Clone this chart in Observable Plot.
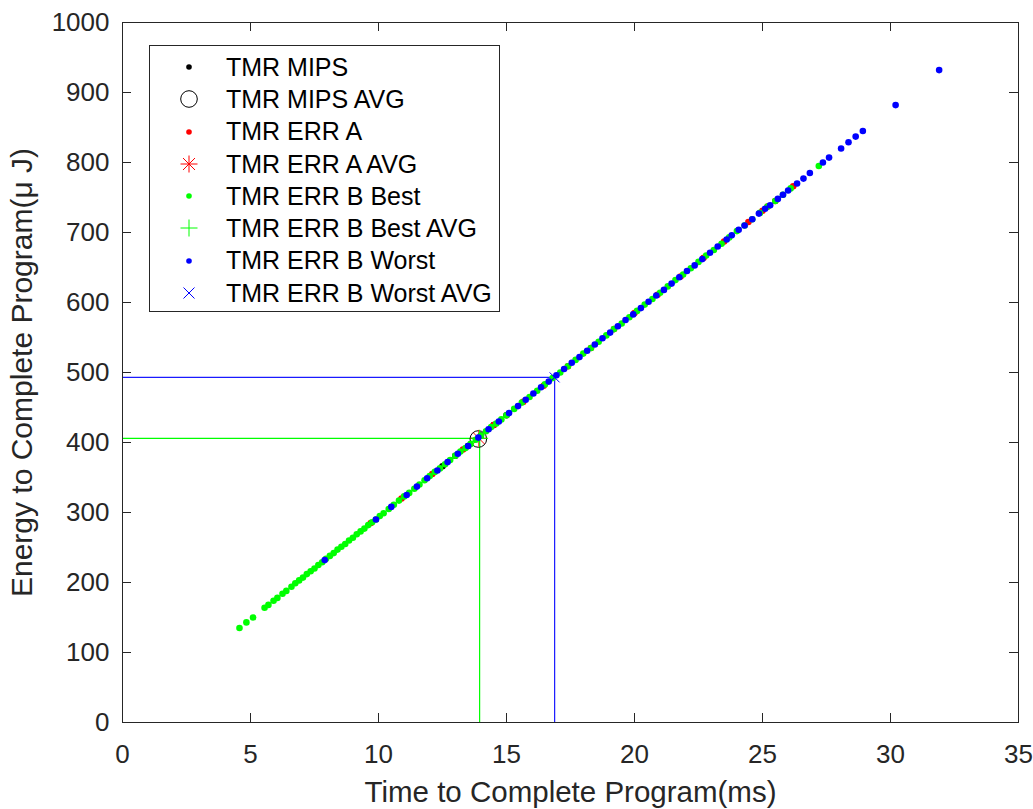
<!DOCTYPE html>
<html>
<head>
<meta charset="utf-8">
<script src="https://cdn.jsdelivr.net/npm/d3@7"></script>
<script src="https://cdn.jsdelivr.net/npm/@observablehq/plot@0.6"></script>
<style>
  html, body { margin: 0; padding: 0; background: #fff; }
  #wrap { position: relative; width: 1033px; height: 809px; }
  #legend {
    position: absolute; left: 149px; top: 45px; width: 351px; height: 267px;
    border: 1px solid #262626; background: #fff; box-sizing: border-box;
    font-family: "Liberation Sans", Arial, sans-serif; font-size: 25px; color: #000;
    padding-top: 5px;
  }
  .row { position: relative; height: 32.3px; display: flex; align-items: center; }
  .row svg { position: absolute; left: 27px; top: 4px; }
  .row span { position: absolute; left: 76px; white-space: nowrap; }
</style>
</head>
<body>
<div id="wrap"></div>
<script>
// ---- data ----
const xTicks = [0, 5, 10, 15, 20, 25, 30, 35];
const yTicks = [0, 100, 200, 300, 400, 500, 600, 700, 800, 900, 1000];

const seriesNames = ["TMR MIPS", "TMR MIPS AVG", "TMR ERR A", "TMR ERR A AVG",
  "TMR ERR B Best", "TMR ERR B Best AVG", "TMR ERR B Worst", "TMR ERR B Worst AVG"];

const mipsTime   = [12.5, 13.0, 13.5, 14.0, 14.5, 15.0];
const mipsEnergy = [366, 381, 395, 410, 425, 439];

const errATime   = [9.7, 10.9, 12.1, 13.3, 14.5, 15.65, 16.45, 17.4, 18.3, 19.2, 20.0, 20.9, 21.8, 22.7, 23.5, 24.45, 25.0, 25.2, 25.5, 26.2];
const errAEnergy = [285, 320, 355, 390, 425, 458, 481, 509, 535, 562, 585, 611, 637, 664, 687, 715, 731, 737, 745, 766];

const bestTime = [4.57, 4.84, 5.10, 5.55, 5.70, 5.90, 6.05, 6.25, 6.40, 6.60, 6.75, 6.90, 7.05, 7.20, 7.35, 7.50, 7.65, 7.80, 7.95, 8.10,
  8.25, 8.40, 8.55, 8.70, 8.85, 9.00, 9.15, 9.30, 9.45, 9.60, 9.75, 9.90, 10.05, 10.2, 10.4, 10.6, 10.8, 11.0, 11.2, 11.4,
  11.6, 11.8, 12.0, 12.2, 12.4, 12.6, 12.8, 13.0, 13.2, 13.4, 13.6, 13.8, 14.0, 14.2, 14.4, 14.6, 14.8, 15.0, 15.3, 15.6,
  15.9, 16.2, 16.5, 16.8, 17.1, 17.4, 17.7, 18.0, 18.3, 18.6, 18.9, 19.2, 19.5, 19.8, 20.1, 20.4, 20.7, 21.0, 21.3, 21.6,
  21.9, 22.2, 22.5, 22.8, 23.1, 23.4, 23.7, 24.0, 24.3, 24.6, 24.9, 25.2, 25.5, 25.8, 26.1, 27.2];
const bestEnergy = [135, 143, 150, 164, 168, 174, 178, 184, 188, 194, 199, 203, 207, 212, 216, 220, 225, 229, 234, 238,
  242, 247, 251, 255, 260, 264, 269, 273, 277, 282, 286, 290, 295, 299, 305, 311, 317, 323, 328, 334,
  340, 346, 352, 358, 363, 369, 375, 381, 387, 392, 398, 404, 410, 416, 422, 427, 433, 439, 448, 457,
  465, 474, 483, 492, 500, 509, 518, 527, 535, 544, 553, 562, 570, 579, 588, 597, 605, 614, 623, 632,
  640, 649, 658, 667, 675, 684, 693, 702, 710, 719, 728, 737, 745, 754, 763, 795];

const worstTime = [7.9, 9.9, 10.5, 11.1, 11.5, 11.9, 12.3, 12.7, 13.1, 13.5, 13.9, 14.3, 14.7, 15.1, 15.45, 15.75, 16.05, 16.35, 16.65, 16.95,
  17.25, 17.55, 17.85, 18.15, 18.45, 18.75, 19.05, 19.35, 19.65, 19.95, 20.25, 20.55, 20.85, 21.15, 21.45, 21.75, 22.05, 22.35, 22.65, 22.95,
  23.25, 23.6, 23.8, 24.07, 24.3, 24.6, 24.86, 25.1, 25.3, 25.6, 25.8, 26.0, 26.35, 26.6, 26.85, 27.36, 27.6, 28.07, 28.36, 28.64,
  28.92, 30.2, 31.9];
const worstEnergy = [232, 290, 308, 325, 337, 349, 360, 372, 384, 395, 407, 419, 430, 442, 452, 461, 470, 479, 487, 496,
  505, 514, 522, 531, 540, 549, 557, 566, 575, 583, 592, 601, 610, 618, 627, 636, 645, 653, 662, 671,
  680, 690, 696, 704, 710, 719, 727, 734, 739, 748, 754, 760, 770, 777, 785, 800, 807, 820, 829, 837,
  845, 882, 932];

// averages: MIPS, ERR A, ERR B Best, ERR B Worst
const avgTime   = [13.9, 13.92, 13.95, 16.88];
const avgEnergy = [405, 406, 406, 493];

// ---- build ----
const pts = (t, e) => t.map((v, i) => ({t: v, e: e[i]}));
const avg = i => [{t: avgTime[i], e: avgEnergy[i]}];
const guide = i => [{t: 0, e: avgEnergy[i]}, {t: avgTime[i], e: avgEnergy[i]}, {t: avgTime[i], e: 0}];

const W = 1033, H = 809, mL = 122, mR = 15, mT = 22, mB = 87;
const innerW = W - mL - mR, innerH = H - mT - mB, tk = 9;
const axisColor = "#262626";
const font = "'Liberation Sans', Arial, Helvetica, sans-serif";
const dotR = 3.3;

const chart = Plot.plot({
  width: W, height: H,
  marginLeft: mL, marginRight: mR, marginTop: mT, marginBottom: mB,
  style: {fontFamily: font, color: axisColor, background: "#fff", overflow: "visible"},
  x: {domain: [0, 35]},
  y: {domain: [0, 1000]},
  marks: [
    Plot.line(guide(2), {x: "t", y: "e", stroke: "#00ff00", strokeWidth: 1.2}),
    Plot.line(guide(3), {x: "t", y: "e", stroke: "#1a1aff", strokeWidth: 1.2}),
    Plot.dot(pts(mipsTime, mipsEnergy), {x: "t", y: "e", r: dotR, fill: "#000", stroke: null}),
    Plot.dot(avg(0), {x: "t", y: "e", r: 8.3, stroke: "#000", strokeWidth: 1, fill: "none"}),
    Plot.dot(pts(errATime, errAEnergy), {x: "t", y: "e", r: dotR, fill: "#ff0000", stroke: null}),
    Plot.dot(avg(1), {x: "t", y: "e", r: 5.5, symbol: "plus", stroke: "#ff0000", strokeWidth: 1}),
    Plot.dot(avg(1), {x: "t", y: "e", r: 5.2, symbol: "times", stroke: "#ff0000", strokeWidth: 1}),
    Plot.dot(pts(bestTime, bestEnergy), {x: "t", y: "e", r: dotR, fill: "#00ff00", stroke: null}),
    Plot.dot(avg(2), {x: "t", y: "e", r: 5.5, symbol: "plus", stroke: "#00ff00", strokeWidth: 1}),
    Plot.dot(pts(worstTime, worstEnergy), {x: "t", y: "e", r: dotR, fill: "#0000ff", stroke: null}),
    Plot.dot(avg(3), {x: "t", y: "e", r: 4.6, symbol: "times", stroke: "#0000ff", strokeWidth: 1}),
    // inward ticks on all four sides
    Plot.tickX(xTicks, {x: d => d, insetTop: innerH - tk, stroke: axisColor}),
    Plot.tickX(xTicks, {x: d => d, insetBottom: innerH - tk, stroke: axisColor}),
    Plot.tickY(yTicks, {y: d => d, insetRight: innerW - tk, stroke: axisColor}),
    Plot.tickY(yTicks, {y: d => d, insetLeft: innerW - tk, stroke: axisColor}),
    Plot.frame({stroke: axisColor, strokeWidth: 1}),
    Plot.axisX({ticks: xTicks, tickSize: 0, tickPadding: 22, fontSize: 26, label: null, fill: axisColor, tickFormat: d => String(d)}),
    Plot.axisY({ticks: yTicks, tickSize: 0, tickPadding: 13, fontSize: 26, label: null, fill: axisColor, tickFormat: d => String(d)}),
    Plot.text(["Time to Complete Program(ms)"], {frameAnchor: "bottom", text: d => d, lineAnchor: "middle", textAnchor: "middle", dy: 70, fontSize: 29.5, fill: axisColor}),
    Plot.text(["Energy to Complete Program(μ J)"], {frameAnchor: "left", text: d => d, rotate: -90, lineAnchor: "middle", textAnchor: "middle", dx: -100, fontSize: 30, fill: axisColor})
  ]
});

const wrap = document.getElementById("wrap");
wrap.appendChild(chart);

// legend (inside the axes, top-left)
const markerSvg = [
  '<circle cx="12" cy="12" r="2.8" fill="#000"/>',
  '<circle cx="12" cy="12" r="8.3" fill="none" stroke="#000" stroke-width="1"/>',
  '<circle cx="12" cy="12" r="2.8" fill="#ff0000"/>',
  '<g stroke="#ff0000" stroke-width="1"><line x1="12" y1="3.5" x2="12" y2="20.5"/><line x1="3.5" y1="12" x2="20.5" y2="12"/><line x1="6" y1="6" x2="18" y2="18"/><line x1="6" y1="18" x2="18" y2="6"/></g>',
  '<circle cx="12" cy="12" r="2.8" fill="#00ff00"/>',
  '<g stroke="#00ff00" stroke-width="1"><line x1="12" y1="3.5" x2="12" y2="20.5"/><line x1="3.5" y1="12" x2="20.5" y2="12"/></g>',
  '<circle cx="12" cy="12" r="2.8" fill="#0000ff"/>',
  '<g stroke="#0000ff" stroke-width="1"><line x1="6.5" y1="6.5" x2="17.5" y2="17.5"/><line x1="6.5" y1="17.5" x2="17.5" y2="6.5"/></g>'
];
const legend = document.createElement("div");
legend.id = "legend";
legend.innerHTML = seriesNames.map((n, i) =>
  `<div class="row"><svg width="24" height="24" viewBox="0 0 24 24">${markerSvg[i]}</svg><span>${n}</span></div>`
).join("");
wrap.appendChild(legend);
</script>
</body>
</html>
